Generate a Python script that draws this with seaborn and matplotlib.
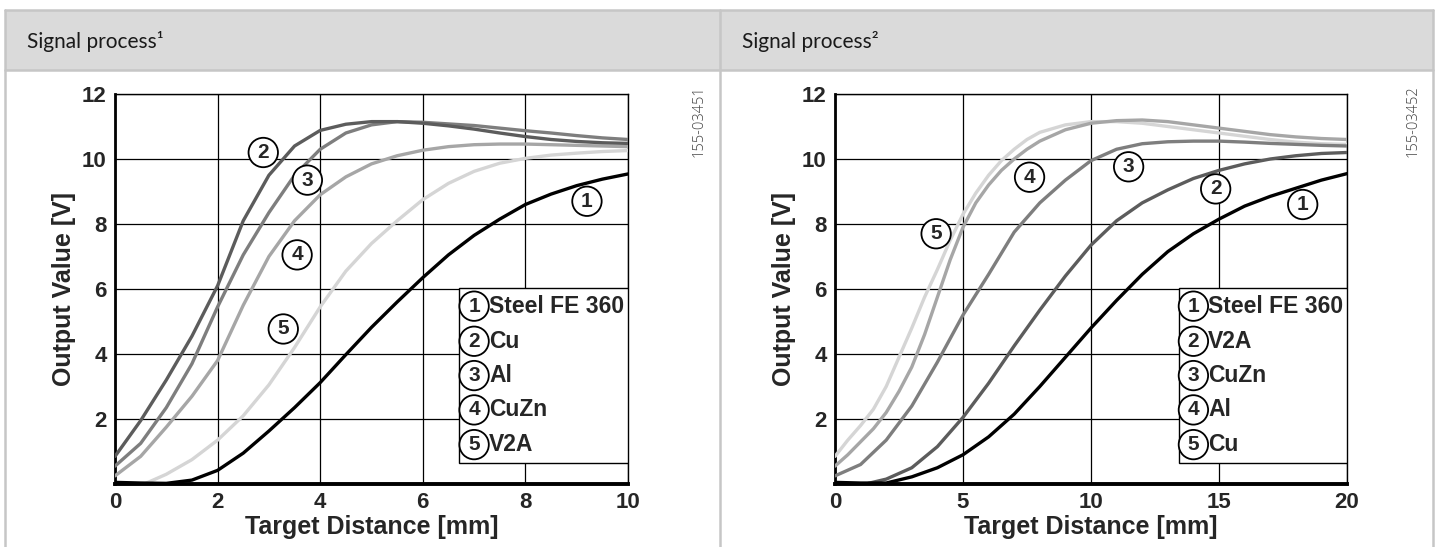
import matplotlib
matplotlib.use("Agg")
import matplotlib.pyplot as plt
from matplotlib.patches import Rectangle
from matplotlib.lines import Line2D
import seaborn as sns

# ---- data ----
# left panel, x in mm (0..10)
L_X = [0, 0.5, 1, 1.5, 2, 2.5, 3, 3.5, 4, 4.5, 5, 5.5, 6, 6.5, 7, 7.5, 8, 8.5, 9, 9.5, 10]
L_STEEL = [0.05, 0.03, 0.02, 0.12, 0.42, 0.95, 1.63, 2.35, 3.12, 3.98, 4.82, 5.6, 6.35, 7.05, 7.65, 8.15, 8.6, 8.92, 9.18, 9.38, 9.54]
L_CU = [0.85, 1.95, 3.2, 4.55, 6.1, 8.1, 9.5, 10.4, 10.88, 11.07, 11.15, 11.15, 11.1, 11.02, 10.92, 10.8, 10.69, 10.6, 10.54, 10.5, 10.48]
L_AL = [0.55, 1.25, 2.35, 3.7, 5.45, 7.05, 8.35, 9.5, 10.3, 10.8, 11.05, 11.15, 11.13, 11.08, 11.03, 10.95, 10.87, 10.8, 10.72, 10.65, 10.6]
L_CUZN = [0.25, 0.85, 1.75, 2.7, 3.8, 5.5, 7.0, 8.1, 8.9, 9.45, 9.85, 10.1, 10.27, 10.38, 10.44, 10.46, 10.46, 10.44, 10.42, 10.4, 10.38]
L_V2A_X = [0.6, 1, 1.5, 2, 2.5, 3, 3.5, 4, 4.5, 5, 5.5, 6, 6.5, 7, 7.5, 8, 8.5, 9, 9.5, 10]
L_V2A = [0.02, 0.3, 0.75, 1.35, 2.1, 3.05, 4.2, 5.45, 6.55, 7.4, 8.1, 8.75, 9.25, 9.62, 9.87, 10.02, 10.12, 10.18, 10.23, 10.26]

# right panel, x in mm (0..20)
R_X = [0, 1, 2, 3, 4, 5, 6, 7, 8, 9, 10, 11, 12, 13, 14, 15, 16, 17, 18, 19, 20]
R_STEEL = [0.05, 0.03, 0.03, 0.22, 0.5, 0.9, 1.45, 2.15, 3.0, 3.9, 4.8, 5.65, 6.45, 7.15, 7.7, 8.15, 8.55, 8.85, 9.1, 9.35, 9.55]
R_CUZN = [0.25, 0.6, 1.35, 2.4, 3.75, 5.2, 6.45, 7.75, 8.65, 9.35, 9.95, 10.3, 10.47, 10.53, 10.55, 10.55, 10.52, 10.48, 10.45, 10.42, 10.4]
R_V2A_X = [1.3, 2, 3, 4, 5, 6, 7, 8, 9, 10, 11, 12, 13, 14, 15, 16, 17, 18, 19, 20]
R_V2A = [0.02, 0.15, 0.5, 1.15, 2.05, 3.1, 4.25, 5.35, 6.4, 7.35, 8.1, 8.65, 9.05, 9.4, 9.65, 9.85, 10.0, 10.1, 10.17, 10.2]
R_FAST_X = [0, 0.5, 1, 1.5, 2, 2.5, 3, 3.5, 4, 4.5, 5, 5.5, 6, 6.5, 7, 7.5,
            8, 9, 10, 11, 12, 13, 14, 15, 16, 17, 18, 19, 20]
R_AL = [0.55, 0.9, 1.3, 1.7, 2.2, 2.85, 3.6, 4.6, 5.75, 6.9, 7.9, 8.65, 9.2, 9.65, 10.0, 10.3,
        10.55, 10.9, 11.1, 11.18, 11.2, 11.15, 11.05, 10.95, 10.85, 10.75, 10.68, 10.63, 10.6]
R_CU = [0.85, 1.35, 1.8, 2.3, 3.0, 3.9, 4.8, 5.75, 6.6, 7.5, 8.3, 8.95, 9.5, 9.95, 10.3, 10.6,
        10.82, 11.05, 11.15, 11.15, 11.1, 11.0, 10.9, 10.8, 10.7, 10.6, 10.52, 10.47, 10.45]

L_NAMES = ["Steel FE 360", "Cu", "Al", "CuZn", "V2A"]
R_NAMES = ["Steel FE 360", "V2A", "CuZn", "Al", "Cu"]
HEADERS = ["Signal process\u00b9", "Signal process\u00b2"]
CODES = ["155-03451", "155-03452"]

GRAYS = ["#000000", "#5c5c5c", "#7e7e7e", "#a6a6a6", "#d5d5d5"]

# circled-number label positions (x, y) in data units
L_TAGS = [(9.2, 8.7), (2.89, 10.2), (3.75, 9.35), (3.55, 7.05), (3.28, 4.77)]
R_TAGS = [(18.27, 8.6), (14.87, 9.08), (11.47, 9.76), (7.6, 9.44), (3.95, 7.7)]

sns.set_style("white")
plt.rcParams["font.family"] = ["Liberation Sans", "DejaVu Sans"]

W, H = 1440, 547
fig = plt.figure(figsize=(W / 100, H / 100), dpi=100)

# table frame
border = "#c6c6c6"
fig.patches.append(Rectangle((5 / W, 1 - 70 / H), 1428 / W, 60 / H, transform=fig.transFigure,
                             facecolor="#dadada", edgecolor="none", zorder=0))
for yy in (10, 70):
    fig.add_artist(Line2D([5 / W, 1433 / W], [1 - yy / H] * 2, color=border, lw=1.8))
for xx in (5, 720, 1433):
    fig.add_artist(Line2D([xx / W] * 2, [0, 1 - 10 / H], color=border, lw=1.8))

for i, hx in enumerate((27, 742)):
    fig.text(hx / W, 1 - 41 / H, HEADERS[i], family=["Lato", "DejaVu Sans"], fontsize=15,
             color="#1a1a1a", va="center", ha="left")
for i, cx in enumerate((699, 1413)):
    fig.text(cx / W, 1 - 121 / H, CODES[i], family=["Open Sans", "DejaVu Sans"], fontweight="light",
             fontsize=10.5, color="#444444", rotation=90, va="center", ha="center")

panels = [
    dict(left=115, right=628, xmax=10, xstep=2,
         curves=[(L_X, L_STEEL), (L_X, L_CU), (L_X, L_AL), (L_X, L_CUZN), (L_V2A_X, L_V2A)],
         names=L_NAMES, tags=L_TAGS),
    dict(left=835, right=1347, xmax=20, xstep=5,
         curves=[(R_X, R_STEEL), (R_V2A_X, R_V2A), (R_X, R_CUZN), (R_FAST_X, R_AL), (R_FAST_X, R_CU)],
         names=R_NAMES, tags=R_TAGS),
]

top, bottom = 94, 484
for p in panels:
    ax = fig.add_axes([p["left"] / W, 1 - bottom / H, (p["right"] - p["left"]) / W, (bottom - top) / H])
    # lighter curves first, black on top
    for k in range(4, -1, -1):
        xs, ys = p["curves"][k]
        sns.lineplot(x=xs, y=ys, color=GRAYS[k], lw=2.4, ax=ax, zorder=3 + (4 - k) * 0.1)
    ax.set_xlim(0, p["xmax"])
    ax.set_ylim(0, 12)
    ax.set_xticks(range(0, p["xmax"] + 1, p["xstep"]))
    ax.set_yticks(range(2, 13, 2))
    ax.grid(True, color="black", lw=0.9)
    ax.set_axisbelow(True)
    ax.tick_params(length=0, labelsize=16, pad=6)
    for lab in ax.get_xticklabels() + ax.get_yticklabels():
        lab.set_fontweight("bold")
    for side, lw in (("left", 2.0), ("bottom", 2.8), ("top", 1.0), ("right", 1.0)):
        ax.spines[side].set_visible(True)
        ax.spines[side].set_color("black")
        ax.spines[side].set_linewidth(lw)
    ax.set_xlabel("Target Distance [mm]", fontsize=18, fontweight="bold", labelpad=1)
    ax.set_ylabel("Output Value [V]", fontsize=18, fontweight="bold", labelpad=4)

    # circled tags on the curves
    for k, (tx, ty) in enumerate(p["tags"]):
        ax.text(tx, ty, str(k + 1), fontsize=15, fontweight="bold", ha="center", va="center", zorder=6,
                bbox=dict(boxstyle="circle,pad=0.25", fc="white", ec="black", lw=1.3))

    # legend box
    bx0, by0, by1 = 0.671, 0.054, 0.503
    ax.add_patch(Rectangle((bx0, by0), 1 - bx0, by1 - by0, transform=ax.transAxes,
                           fc="white", ec="black", lw=1.0, zorder=5))
    for k, ey in enumerate([0.456, 0.366, 0.278, 0.19, 0.101]):
        ax.text(bx0 + 0.029, ey, str(k + 1), transform=ax.transAxes, fontsize=15, fontweight="bold",
                ha="center", va="center", zorder=6,
                bbox=dict(boxstyle="circle,pad=0.25", fc="white", ec="black", lw=1.3))
        ax.text(bx0 + 0.058, ey, p["names"][k], transform=ax.transAxes, fontsize=16.5,
                fontweight="bold", ha="left", va="center", zorder=6)

fig.savefig("out.png", dpi=100)
